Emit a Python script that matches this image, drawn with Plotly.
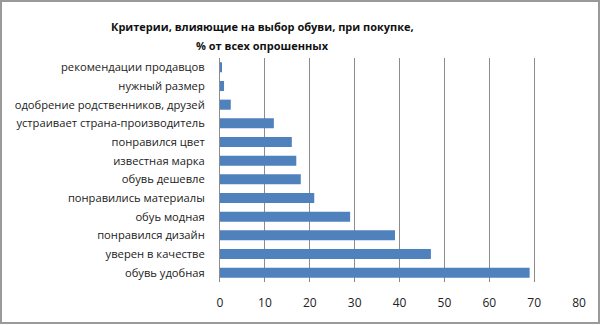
import plotly.graph_objects as go

categories = [
    "обувь удобная",
    "уверен в качестве",
    "понравился дизайн",
    "обуь модная",
    "понравились материалы",
    "обувь дешевле",
    "известная марка",
    "понравился цвет",
    "устраивает страна-производитель",
    "одобрение родственников, друзей",
    "нужный размер",
    "рекомендации продавцов",
]
values = [69, 47, 39, 29, 21, 18, 17, 16, 12, 2.4, 0.9, 0.3]
x_ticks = [0, 10, 20, 30, 40, 50, 60, 70, 80]

title_lines = ["Критерии, влияющие на выбор обуви, при покупке,", "% от всех опрошенных"]

L, R, T, B = 220, 21, 58, 43
W, H = 600, 325
PW, PH = W - L - R, H - T - B

fig = go.Figure(
    go.Bar(
        x=values,
        y=categories,
        orientation="h",
        marker=dict(color="#4F81BD", line=dict(width=0)),
        width=0.54,
    )
)

annotations = []
for i, line in enumerate(title_lines):
    ypix = 27 + 18 * i
    annotations.append(
        dict(
            text=line,
            xref="paper", yref="paper",
            x=(262 - L) / PW, y=1 + (T - ypix) / PH,
            xanchor="center", yanchor="middle",
            showarrow=False,
            font=dict(family="Open Sans", size=11, color="#111", weight="bold"),
        )
    )

fig.update_layout(
    width=W,
    height=H,
    margin=dict(l=L, r=R, t=T, b=B, autoexpand=False),
    paper_bgcolor="white",
    plot_bgcolor="white",
    showlegend=False,
    font=dict(family="Open Sans", size=11, color="#222"),
    annotations=annotations,
    shapes=[
        dict(
            type="rect", xref="paper", yref="paper",
            x0=-(L - 1) / PW, x1=1 + (R - 1) / PW,
            y0=-(B - 2) / PH, y1=1 + (T - 1) / PH,
            line=dict(color="#9a9a9a", width=2),
        )
    ],
)

fig.update_xaxes(
    range=[0, 80],
    tickvals=x_ticks,
    showgrid=True,
    gridcolor="#8c8c8c",
    gridwidth=1,
    zeroline=False,
    showline=False,
    ticks="",
    ticklabelstandoff=12,
    automargin=False,
    tickfont=dict(size=12, color="#222"),
)
fig.update_yaxes(
    showgrid=False,
    showline=True,
    linecolor="#8c8c8c",
    linewidth=1,
    ticks="",
    ticklabelstandoff=12,
    automargin=False,
    range=[-0.5, len(categories) - 0.5],
    tickfont=dict(size=11.2, color="#222"),
)

fig.write_html("out.html")
